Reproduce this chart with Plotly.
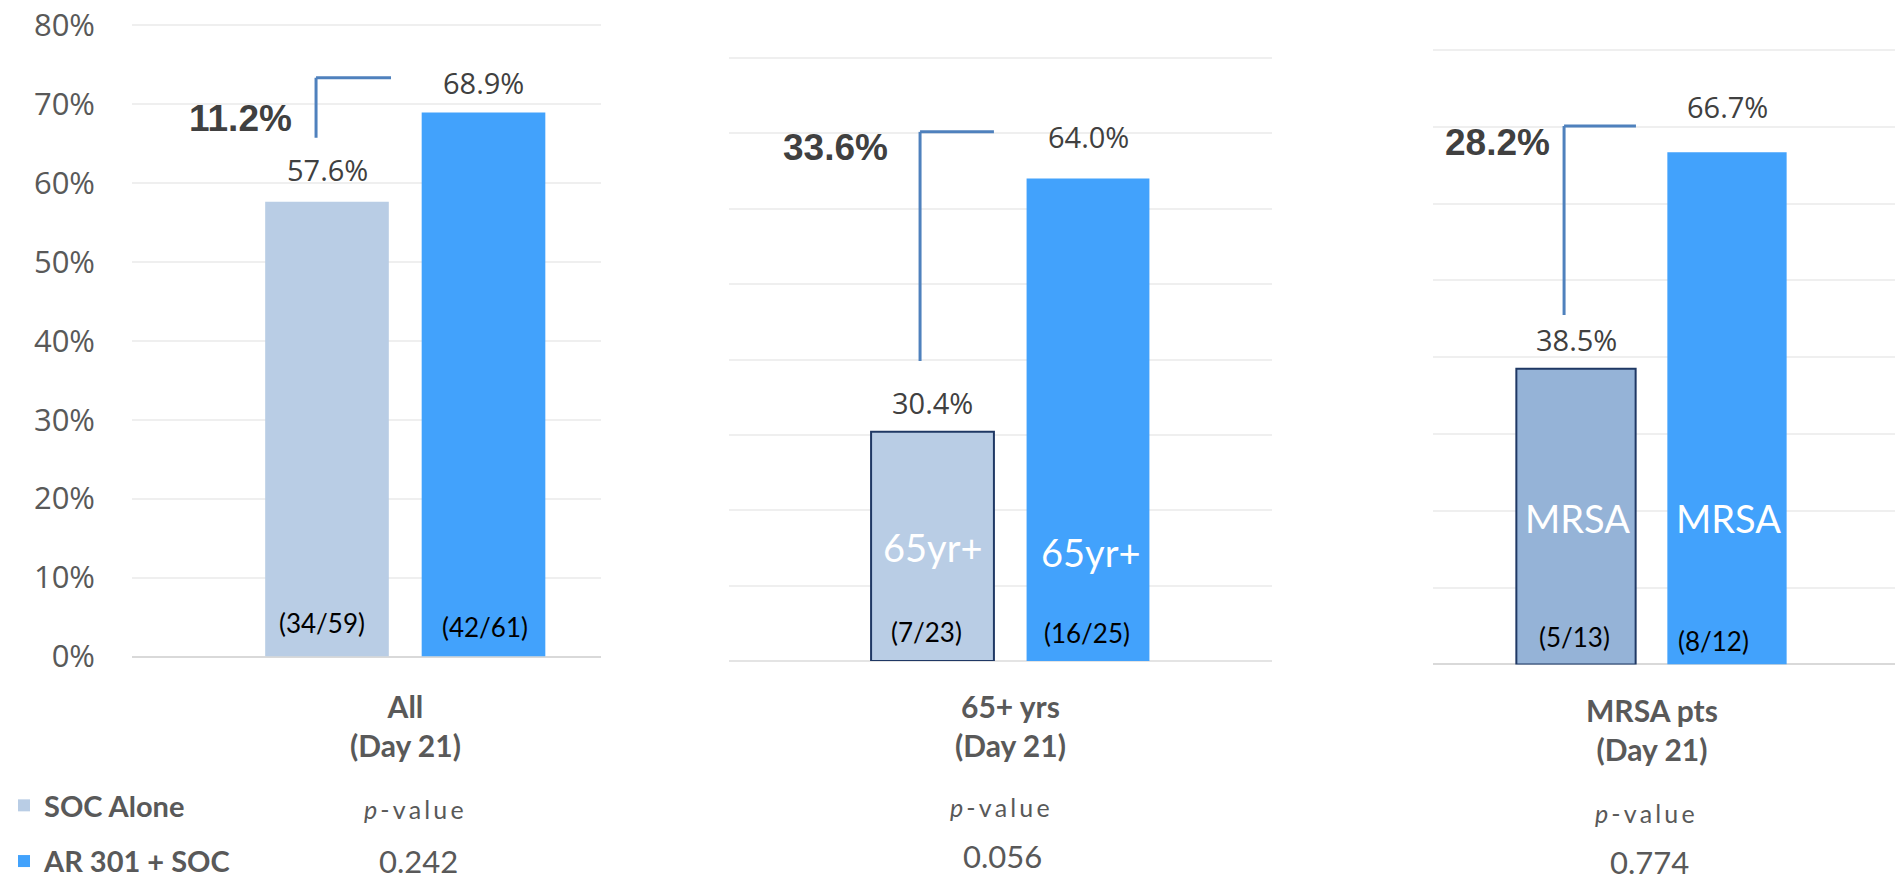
import plotly.graph_objects as go

# ---------------- data ----------------
panel_labels = ["All", "65+ yrs", "MRSA pts"]
timepoint = "(Day 21)"
series_names = ["SOC Alone", "AR 301 + SOC"]
soc_values = [57.6, 30.4, 38.5]
ar_values = [68.9, 64.0, 66.7]
soc_counts = ["(34/59)", "(7/23)", "(5/13)"]
ar_counts = ["(42/61)", "(16/25)", "(8/12)"]
differences = ["11.2%", "33.6%", "28.2%"]
p_values = ["0.242", "0.056", "0.774"]
bar_tags = ["", "65yr+", "MRSA"]
y_ticks = [0, 10, 20, 30, 40, 50, 60, 70, 80]
y_tick_labels = ["0%", "10%", "20%", "30%", "40%", "50%", "60%", "70%", "80%"]

# ---------------- styles / layout ----------------
W, H = 1895, 881
AR_COLOR = "#42a2fc"
SOC_COLORS = ["#b9cde5", "#b9cde5", "#95b3d7"]
SOC_LINE_W = [0, 2, 2]
SOC_LINE_C = "#1f3864"
GRID_C = "#efefef"
BASE_C = ["#d9d9d9", "#e4e4e4", "#d9d9d9"]
TXT_GRAY = "#595959"
TXT_DARK = "#404040"
BRACKET_C = "#4f81bd"


def fx(px):
    return px / W


def fy(py):
    return 1 - py / H


# pixel geometry of each panel: plot-area left/right, baseline, px per 1%, first bar centre, bar spacing
panel_px = [
    dict(left=132, right=601, base=656.5, ppu=7.894, c0=327, step=156.5),
    dict(left=729, right=1272, base=661.0, ppu=7.5375, c0=932.5, step=155.5),
    dict(left=1433, right=1895, base=664.5, ppu=7.681, c0=1576, step=151),
]
Y_TOP = 82
BAR_W = 0.79

value_shift = [[32, 30], [29, 42], [29, 46]]
count_shift = [[34, 30], [29, 28], [27.5, 23.5]]
count_xshift = [[-5, 1], [-6, -1], [-2, -14]]
tag_shift = [[0, 0], [114, 109], [146, 146]]
tag_xshift = [[0, 0], [0, 3], [1, 1]]
diff_pos = [(-0.55, 68.2), (-0.627, 68.1), (-0.523, 67.9)]
bracket = [(-0.070, 0.409, 65.7, 73.3), (-0.080, 0.395, 39.8, 70.2), (-0.079, 0.397, 45.5, 70.1)]
cat_label_y = [725, 725, 729]
pval_label_px = [(414, 809), (1000, 807), (1645, 813)]
pval_px = [(418, 861), (1002, 856), (1649, 862)]

fig = go.Figure()
annotations = []
shapes = []

for i in range(3):
    sfx = "" if i == 0 else str(i + 1)
    xa, ya = "x" + sfx, "y" + sfx
    g = panel_px[i]
    fig.add_trace(go.Bar(
        x=[series_names[0]], y=[soc_values[i]], xaxis=xa, yaxis=ya,
        name=series_names[0], legendgroup="soc", showlegend=(i == 0),
        width=BAR_W,
        marker=dict(color=SOC_COLORS[i], line=dict(color=SOC_LINE_C, width=SOC_LINE_W[i])),
    ))
    fig.add_trace(go.Bar(
        x=[series_names[1]], y=[ar_values[i]], xaxis=xa, yaxis=ya,
        name=series_names[1], legendgroup="ar", showlegend=(i == 0),
        width=BAR_W,
        marker=dict(color=AR_COLOR, line=dict(width=0)),
    ))

    x0 = (g["left"] - g["c0"]) / g["step"]
    x1 = (g["right"] - g["c0"]) / g["step"]
    top_px = g["base"] - Y_TOP * g["ppu"]
    fig.layout["xaxis" + sfx] = dict(
        domain=[fx(g["left"]), min(1.0, fx(g["right"]))], range=[x0, x1],
        type="category", categoryorder="array", categoryarray=series_names,
        showticklabels=False, showgrid=False, zeroline=False, showline=False,
        anchor=ya, fixedrange=True, automargin=False,
    )
    fig.layout["yaxis" + sfx] = dict(
        domain=[fy(g["base"]), fy(top_px)], range=[0, Y_TOP],
        tickmode="array", tickvals=y_ticks, ticktext=y_tick_labels,
        showticklabels=(i == 0), ticklabeloverflow="allow",
        tickfont=dict(family="Open Sans", size=31, color=TXT_GRAY),
        ticklabelstandoff=36,
        showgrid=True, gridcolor=GRID_C, gridwidth=2,
        zeroline=True, zerolinecolor=BASE_C[i], zerolinewidth=2,
        showline=False, anchor=xa, fixedrange=True, automargin=False,
    )

    vals = [soc_values[i], ar_values[i]]
    counts = [soc_counts[i], ar_counts[i]]
    for j in range(2):
        annotations.append(dict(
            x=j, y=vals[j], xref=xa, yref=ya, text=f"{vals[j]:.1f}%",
            showarrow=False, xanchor="center", yanchor="middle", yshift=value_shift[i][j],
            font=dict(family="Open Sans", size=29, color=TXT_DARK),
        ))
        annotations.append(dict(
            x=j, y=0, xref=xa, yref=ya, text=counts[j],
            showarrow=False, xanchor="center", yanchor="middle", yshift=count_shift[i][j],
            xshift=count_xshift[i][j],
            font=dict(family="Lato", size=26, color="#000000"),
        ))
        if bar_tags[i]:
            annotations.append(dict(
                x=j, y=0, xref=xa, yref=ya, text=bar_tags[i],
                showarrow=False, xanchor="center", yanchor="middle", yshift=tag_shift[i][j],
                xshift=tag_xshift[i][j],
                font=dict(family="Lato", size=38, color="#ffffff"),
            ))

    annotations.append(dict(
        x=diff_pos[i][0], y=diff_pos[i][1], xref=xa, yref=ya, text=f"<b>{differences[i]}</b>",
        showarrow=False, xanchor="center", yanchor="middle",
        font=dict(family="Liberation Sans", size=37, color=TXT_DARK),
    ))
    bx0, bx1, by0, by1 = bracket[i]
    shapes.append(dict(type="line", xref=xa, yref=ya, x0=bx0, x1=bx0, y0=by0, y1=by1,
                       line=dict(color=BRACKET_C, width=3)))
    shapes.append(dict(type="line", xref=xa, yref=ya, x0=bx0, x1=bx1, y0=by1, y1=by1,
                       line=dict(color=BRACKET_C, width=3)))

    annotations.append(dict(
        x=0.5, y=fy(cat_label_y[i]), xref=xa, yref="paper",
        text=f"<b>{panel_labels[i]}<br>{timepoint}</b>", showarrow=False,
        xanchor="center", yanchor="middle",
        font=dict(family="Lato", size=30, color=TXT_GRAY),
    ))
    annotations.append(dict(
        x=fx(pval_label_px[i][0]), y=fy(pval_label_px[i][1]), xref="paper", yref="paper",
        text="<i>p</i>\u2009-\u2009v\u2009a\u2009l\u2009u\u2009e", showarrow=False,
        xanchor="center", yanchor="middle",
        font=dict(family="Lato", size=25, color=TXT_GRAY),
    ))
    annotations.append(dict(
        x=fx(pval_px[i][0]), y=fy(pval_px[i][1]), xref="paper", yref="paper",
        text=p_values[i], showarrow=False, xanchor="center", yanchor="middle",
        font=dict(family="Lato", size=31, color=TXT_GRAY),
    ))

fig.update_layout(
    width=W, height=H,
    margin=dict(l=0, r=0, t=0, b=0, pad=0, autoexpand=False),
    paper_bgcolor="#ffffff", plot_bgcolor="#ffffff",
    barmode="overlay",
    showlegend=True,
    legend=dict(
        x=fx(4), y=fy(780), xanchor="left", yanchor="top",
        font=dict(family="Lato", size=29, color=TXT_GRAY, weight=700),
        tracegroupgap=15, traceorder="grouped", bgcolor="rgba(0,0,0,0)",
    ),
    annotations=annotations,
    shapes=shapes,
)

fig.write_html(
    "out.html",
    config={"displayModeBar": False},
    post_script="document.body.style.margin='0';document.body.style.overflow='hidden';",
)
